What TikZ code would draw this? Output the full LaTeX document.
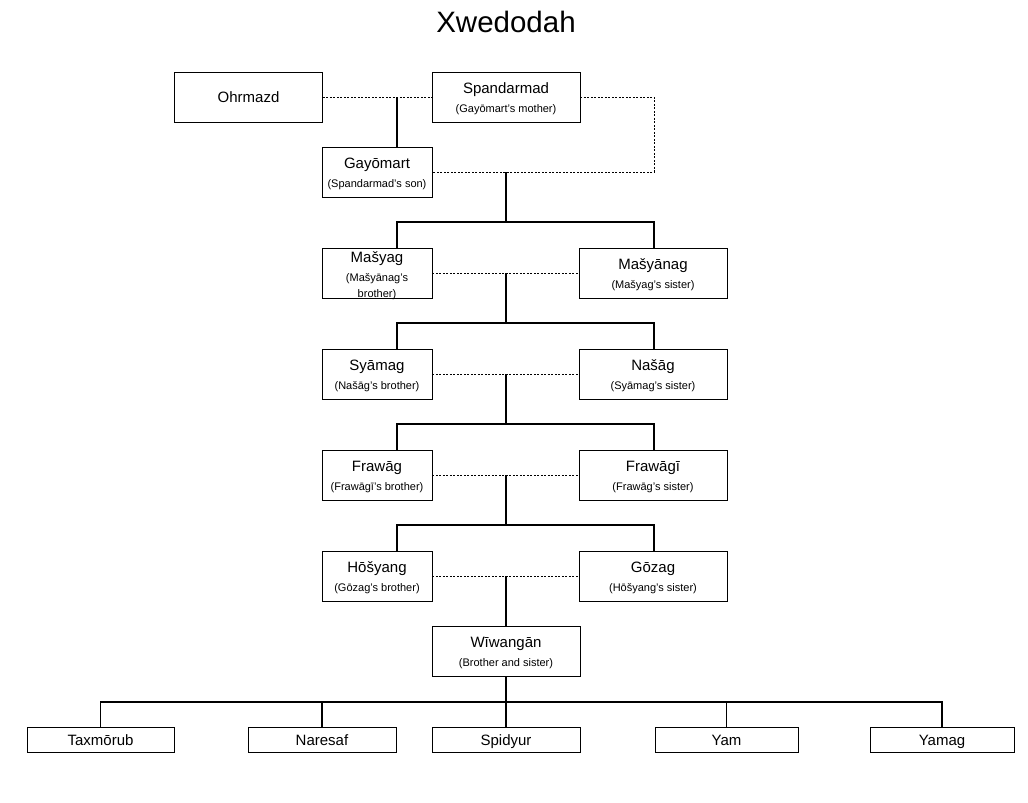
\documentclass[tikz,border=0pt]{standalone}
\usepackage{fontspec}
\setmainfont{Liberation Sans}
\begin{document}
\begin{tikzpicture}[x=1pt,y=-1pt,
  box/.style={draw, line width=0.8pt, inner sep=0pt, minimum height=50pt},
  wide/.style={box, minimum width=148pt},
  narrow/.style={box, minimum width=110pt},
  nm/.style={anchor=base, inner sep=0pt, font=\fontsize{15}{16}\selectfont},
  sb/.style={anchor=base, inner sep=0pt, font=\fontsize{11}{12}\selectfont},
  leaf/.style={draw, line width=0.8pt, inner sep=0pt, minimum height=25pt,
    text height=13pt, text depth=2pt, font=\fontsize{15}{16}\selectfont},
  sol/.style={line width=1.8pt},
  dot/.style={line width=0.7pt, dash pattern=on 2pt off 1.5pt}]
\useasboundingbox (0,0) rectangle (1028,803);
\node[font=\fontsize{29.5}{30}\selectfont] (title) at (506,22) {Xwedodah};
% boxes
\node[wide] (ohr) at (248.5,97) {};
\node[wide] (spa) at (506,97) {};
\node[narrow] (gay) at (377,172) {};
\node[narrow] (mas) at (377,273) {};
\node[wide] (masn) at (653,273) {};
\node[narrow] (sya) at (377,374) {};
\node[wide] (nas) at (653,374) {};
\node[narrow] (fra) at (377,475) {};
\node[wide] (frai) at (653,475) {};
\node[narrow] (hos) at (377,576) {};
\node[wide] (goz) at (653,576) {};
\node[wide] (wiw) at (506,651) {};
% texts
\node[nm] (tohr) at ([yshift=-5]ohr.center) {Ohrmazd};
\node[nm] (tspa) at ([yshift=4]spa.center) {Spandarmad};
\node[sb] (sspa) at ([yshift=-15]spa.center) {(Gayōmart's mother)};
\node[nm] (tgay) at ([yshift=4]gay.center) {Gayōmart};
\node[sb] (sgay) at ([yshift=-15]gay.center) {(Spandarmad's son)};
\node[nm] (tmas) at ([yshift=11]mas.center) {Mašyag};
\node[sb] (smas) at ([yshift=-8]mas.center) {(Mašyānag's};
\node[sb] (smas2) at ([yshift=-24]mas.center) {brother)};
\node[nm] (tmasn) at ([yshift=4]masn.center) {Mašyānag};
\node[sb] (smasn) at ([yshift=-15]masn.center) {(Mašyag's sister)};
\node[nm] (tsya) at ([yshift=4]sya.center) {Syāmag};
\node[sb] (ssya) at ([yshift=-15]sya.center) {(Našāg's brother)};
\node[nm] (tnas) at ([yshift=4]nas.center) {Našāg};
\node[sb] (snas) at ([yshift=-15]nas.center) {(Syāmag's sister)};
\node[nm] (tfra) at ([yshift=4]fra.center) {Frawāg};
\node[sb] (sfra) at ([yshift=-15]fra.center) {(Frawāgī's brother)};
\node[nm] (tfrai) at ([yshift=4]frai.center) {Frawāgī};
\node[sb] (sfrai) at ([yshift=-15]frai.center) {(Frawāg's sister)};
\node[nm] (thos) at ([yshift=4]hos.center) {Hōšyang};
\node[sb] (shos) at ([yshift=-15]hos.center) {(Gōzag's brother)};
\node[nm] (tgoz) at ([yshift=4]goz.center) {Gōzag};
\node[sb] (sgoz) at ([yshift=-15]goz.center) {(Hōšyang's sister)};
\node[nm] (twiw) at ([yshift=4]wiw.center) {Wīwangān};
\node[sb] (swiw) at ([yshift=-15]wiw.center) {(Brother and sister)};
% children
\node[leaf, minimum width=147pt] (tax) at (100.5,739.5) {Taxmōrub};
\node[leaf, minimum width=148pt] (nar) at (322,739.5) {Naresaf};
\node[leaf, minimum width=148pt] (spi) at (506,739.5) {Spidyur};
\node[leaf, minimum width=143pt] (yam) at (726.5,739.5) {Yam};
\node[leaf, minimum width=144pt] (yamg) at (942,739.5) {Yamag};
% generation 0
\draw[dot] (ohr.east) -- (spa.west);
\coordinate (m0) at (397,97);
\draw[sol] (m0) -- (m0 |- gay.north);
\coordinate (sr) at (654,97);
\draw[dot] (spa.east) -- (sr) -- (sr |- gay.east) -- (gay.east);
\coordinate (m1) at (506,172);
\coordinate (b1) at (506,222);
\draw[sol] (m1) -- (b1);
\draw[sol] (mas.north -| 397,0) |- (b1) -| (masn.north -| 654,0);
% generation 2
\draw[dot] (mas.east) -- (masn.west);
\coordinate (m2) at (506,273);
\coordinate (b2) at (506,323);
\draw[sol] (m2) -- (b2);
\draw[sol] (sya.north -| 397,0) |- (b2) -| (nas.north -| 654,0);
% generation 3
\draw[dot] (sya.east) -- (nas.west);
\coordinate (m3) at (506,374);
\coordinate (b3) at (506,424);
\draw[sol] (m3) -- (b3);
\draw[sol] (fra.north -| 397,0) |- (b3) -| (frai.north -| 654,0);
% generation 4
\draw[dot] (fra.east) -- (frai.west);
\coordinate (m4) at (506,475);
\coordinate (b4) at (506,525);
\draw[sol] (m4) -- (b4);
\draw[sol] (hos.north -| 397,0) |- (b4) -| (goz.north -| 654,0);
% generation 5
\draw[dot] (hos.east) -- (goz.west);
\coordinate (m5) at (506,576);
\draw[sol] (m5) -- (wiw.north);
% children
\coordinate (b6) at (506,702);
\draw[sol] (wiw.south) -- (b6);
\draw[sol] (tax.north) |- (b6) -| (yamg.north);
\draw[sol] (nar.north) -- (nar.north |- b6);
\draw[sol] (spi.north) -- (b6);
\draw[sol] (yam.north) -- (yam.north |- b6);
\end{tikzpicture}
\end{document}
